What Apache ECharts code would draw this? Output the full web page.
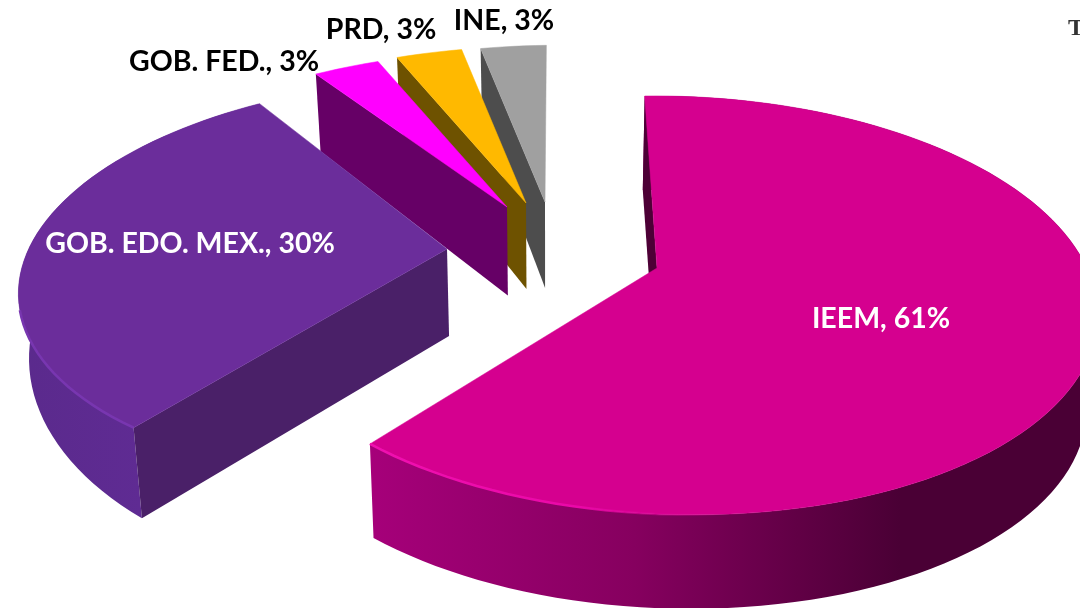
<!DOCTYPE html>
<html><head><meta charset="utf-8">
<style>html,body{margin:0;padding:0;background:#fff}#c{width:1080px;height:608px}</style>
<script src="https://cdn.jsdelivr.net/npm/echarts@6/dist/echarts.min.js"></script>
</head><body><div id="c"></div>
<script>
const categories = ['IEEM','GOB. EDO. MEX.','GOB. FED.','PRD','INE'];
const values = [61,30,3,3,3];
const topColors = ['#D5008F','#6B2D9B','#FF00FF','#FFB900','#A0A0A0'];
const cutColors = ['#4D0036','#4A2068','#660066','#6E5200','#4D4D4D'];
const labelColors = ['#fff','#fff','#000','#000','#000'];
const startAngle = -2;
const labelCenters = [[881,319],[190,244],[224,62],[381,30],[504,21]];
// exploded slice frames: apex position and projection of the tilted disc
const frames = [
 {cx:657,cy:268,A:416,B:202.5,S:0,T:-8,k:0.177,m:-0.04,H:94,Ha:94,p:0,hx:0.02},
 {cx:447,cy:249,A:410,B:196,S:28,T:0,k:0.15,m:0.02,H:55,Ha:87,p:3,hx:0.02},
 {cx:507,cy:207,A:412,B:185,S:16,T:0,k:0.18,m:0,H:88.5,Ha:88.5,p:1,hx:0.02},
 {cx:526,cy:203,A:412,B:185,S:16,T:0,k:0.18,m:0,H:86,Ha:86,p:1,hx:0.02},
 {cx:545,cy:202,A:412,B:185,S:16,T:0,k:0.18,m:0,H:86,Ha:86,p:1,hx:0.02}
];
const rimFills = [
 {x:368,x2:900,stops:[[0,'#A6007A'],[0.5,'#86005F'],[1,'#4A0035']]},
 {x:14,x2:140,stops:[[0,'#5A2A8C'],[1,'#5F2B93']]},
 null,null,null
];
const bevels = [
 {x:368,x2:720,stops:[[0,'#F010B0'],[0.6,'#EA08A8'],[1,'rgba(213,0,143,0)']]},
 {x:14,x2:140,stops:[[0,'#7836B0'],[1,'#7836B0']]},
 null,null,null
];
const vpX = 550;
const total = values.reduce((a,b)=>a+b,0);
const grad = g => ({type:'linear',global:true,x:g.x,y:0,x2:g.x2,y2:0,
  colorStops:g.stops.map(s=>({offset:s[0],color:s[1]}))});
function project(f,r,deg){
  const t=deg*Math.PI/180, X=r*Math.sin(t), Y=r*Math.cos(t), w=1+f.k*Y+f.m*X;
  const x=f.cx+(f.A*X+f.S*Y)/w, y=f.cy-(f.B*Y+f.T*X)/w;
  return {top:[x,y], bot:[x+(vpX-x)*f.hx, y+(r===0?f.Ha:f.H/(1+f.p*(w-1)))]};
}
function renderItem(params,api){
  const i=params.dataIndex, f=frames[i], val=api.value(1);
  let before=0; for(let j=0;j<i;j++) before+=values[j];
  const a0=startAngle+before/total*360, a1=a0+val/total*360;
  const rimT=[], rimB=[];
  const n=Math.max(4,Math.ceil((a1-a0)/2));
  for(let s=0;s<=n;s++){const p=project(f,1,a0+(a1-a0)*s/n);rimT.push(p.top);rimB.push(p.bot);}
  const apex=project(f,0,0);
  const z=(4-i)*10+ (i===0?100:0);
  const kids=[];
  if(rimFills[i]) kids.push({type:'polygon',z2:z,shape:{points:rimT.concat(rimB.slice().reverse())},style:{fill:grad(rimFills[i])}});
  kids.push({type:'polygon',z2:z+1,shape:{points:[apex.top,rimT[0],rimB[0],apex.bot]},style:{fill:cutColors[i]}});
  kids.push({type:'polygon',z2:z+2,shape:{points:[apex.top].concat(rimT)},style:{fill:topColors[i],stroke:topColors[i],lineWidth:0.5}});
  if(bevels[i]) kids.push({type:'polyline',z2:z+3,shape:{points:rimT.filter(p=>p[1]>310)},style:{stroke:grad(bevels[i]),lineWidth:2.5,fill:null}});
  kids.push({type:'text',z2:300,style:{text:categories[i]+', '+val+'%',x:labelCenters[i][0],y:labelCenters[i][1],
    align:'center',verticalAlign:'middle',fill:labelColors[i],font:'bold 28.5px Lato'}});
  return {type:'group',children:kids};
}
const chart=echarts.init(document.getElementById('c'),null,{renderer:'canvas'});
chart.setOption({
  animation:false,backgroundColor:'#fff',
  graphic:[{type:'text',left:1068,top:17,style:{text:'T',fill:'#333',font:'bold 24px "Liberation Serif"'}}],
  series:[{type:'custom',coordinateSystem:'none',renderItem,data:values.map((v,i)=>[i,v]),silent:true,clip:false}]
});
</script></body></html>
